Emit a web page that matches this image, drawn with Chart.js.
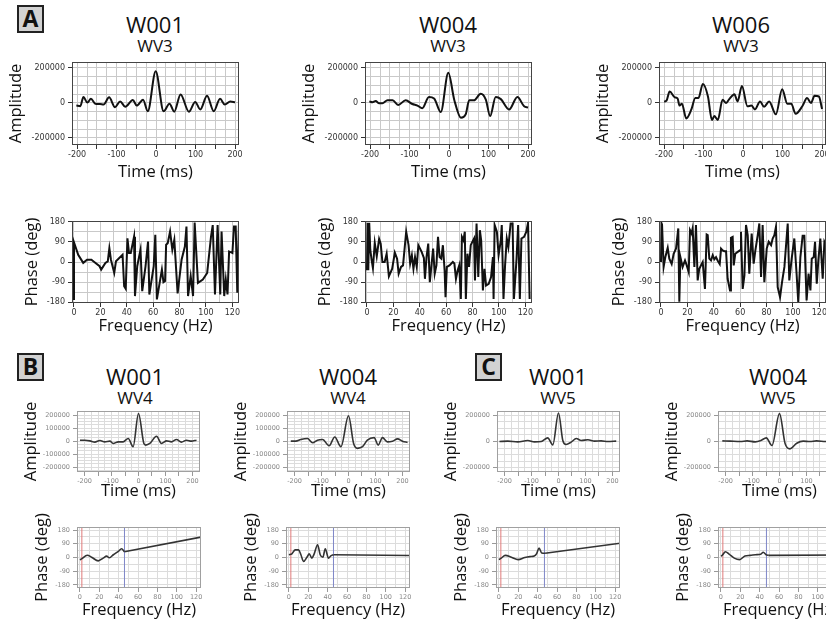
<!DOCTYPE html>
<html>
<head>
<meta charset="utf-8">
<script src="https://cdn.jsdelivr.net/npm/chart.js@4.4.1/dist/chart.umd.min.js"></script>
<style>
html, body { margin: 0; padding: 0; background: #fff; overflow: hidden; }
#stage { position: relative; width: 826px; height: 623px; overflow: hidden; background: #fff; }
#stage canvas { position: absolute; }
.lbl { position: absolute; font-family: 'Open Sans', sans-serif; color: #111; text-align: center; white-space: nowrap; width: 140px; }
.box { position: absolute; box-sizing: border-box; background: #d2d2d2; border: 2px solid #222;
       font: bold 23px/23px 'Open Sans', sans-serif; color: #111; text-align: center; }
</style>
</head>
<body>
<div id="stage"></div>
<script>
// ---------- A: WV3, time domain ----------
const w001Wv3Time = [-202, -192, -184, -174, -165, -154, -142, -133, -119, -104, -91, -78, -59, -49, -33, -21, -1, 19, 34, 46, 62, 83, 99, 112, 129, 146, 162, 174, 188, 200];
const w001Wv3Amp = [-15000, -18000, 34000, 2000, 24000, -4000, -6000, -9000, 32000, -24000, 9000, -22000, 17000, -15000, 19000, -47000, 181000, -47000, -4000, -50000, 49000, -50000, 6000, -37000, 41000, -47000, 24000, -9000, 9000, 4000];

const w004Wv3Time = [-202, -194, -186, -177, -169, -156, -143, -129, -110, -93, -80, -68, -51, -38, -21, -2, 13, 30, 42, 51, 63, 80, 93, 104, 118, 131, 152, 173, 190, 200];
const w004Wv3Amp = [9000, 4000, 11000, -2000, -2000, 15000, 15000, -11000, 15000, -6000, -15000, -30000, 34000, 26000, -52000, 172000, 19000, -84000, -65000, 15000, 15000, 52000, 19000, -75000, 34000, 22000, -37000, 34000, -19000, -26000];

const w006Wv3Time = [-200, -194, -186, -173, -166, -161, -155, -144, -131, -121, -113, -102, -89, -79, -73, -64, -52, -43, -35, -22, -14, -3, 11, 21, 30, 43, 53, 66, 83, 99, 112, 122, 133, 150, 162, 172, 181, 192, 200];
const w006Wv3Amp = [7000, 13000, 65000, 32000, 26000, -15000, -4000, -88000, -37000, 28000, 28000, 108000, 37000, -97000, -75000, -97000, 19000, 0, 22000, 50000, 9000, 97000, -19000, -15000, -37000, 9000, -22000, 9000, -65000, 78000, -4000, -4000, -62000, -19000, 28000, 0, 41000, 37000, -34000];

// ---------- A: WV3, phase spectra ----------
const w001Wv3Freq = [0, 0, 3.2, 7, 9.9, 13.2, 15.6, 19.4, 20.6, 23.8, 25.6, 26.8, 28, 30.5, 31.8, 36.8, 38, 39.2, 40.5, 41.7, 43, 45.5, 46.2, 47.9, 50.4, 51.7, 54.2, 56.1, 57.1, 60.4, 61.6, 62.8, 66.6, 67.8, 69, 69.8, 71, 72.8, 74.5, 76, 78.5, 81.5, 84, 85.2, 86.4, 88.4, 90.2, 91.4, 93.9, 97.6, 100.9, 103.8, 105.1, 106.8, 108.8, 110.8, 111.8, 113.8, 115, 116.3, 117.5, 120, 121.2, 122.5, 123.7, 125, 125];
const w001Wv3Phase = [-170, 88, 32, -4, 10, 10, -1, -19, -34, -4, 3, 62, 10, -49, 3, 32, -108, -120, 106, 40, 40, 113, -152, -19, 55, -130, -19, 91, -145, -19, 121, -167, -34, -90, -85, 77, 84, 136, 55, 99, -140, 10, 69, 158, -152, -63, -152, 176, -93, -78, -49, 113, 165, -145, 165, -145, 136, -152, -78, -145, 47, 40, 158, 158, -137, 180, -180];

const w004Wv3Freq = [0, 0.5, 1.0, 1.7, 2.5, 3.5, 4.5, 5.9, 7.4, 9.2, 10.4, 11.7, 13.4, 14.9, 16.6, 19.1, 21.1, 22.8, 24, 25.8, 27.3, 29.7, 31.5, 32.7, 34, 35.2, 36.4, 37.7, 38.9, 41.4, 43.1, 43.9, 45.1, 46.4, 47.6, 50.1, 51.3, 52.6, 53.8, 55, 56.3, 57.5, 58.8, 59.5, 60.5, 62.5, 65, 66.2, 67.4, 68.7, 69.9, 71.1, 71.9, 73.1, 74.1, 74.9, 76.1, 77.3, 78.6, 79.8, 81.1, 81.8, 83, 84.3, 85.5, 86.5, 87.8, 89, 90.2, 92.2, 94, 95.4, 95.9, 96.7, 98.4, 99.7, 101.4, 102.1, 103.4, 104.6, 105.9, 107.1, 108.8, 110.3, 111.3, 113.3, 114.5, 115.8, 117, 119, 120.7, 122, 123.2];
const w004Wv3Phase = [-37, 175, -37, 175, 55, 10, -27, 85, 25, 103, 82, 0, 0, 37, -64, -30, 42, 15, -52, -22, -15, 135, 75, -7, 30, -30, 22, -22, 75, 45, 18, -75, 22, 82, -90, 60, -52, -15, 112, 22, 15, 75, -37, -157, -22, -15, 0, -7, -75, -37, -15, -165, 112, 97, 135, -165, 37, -22, 75, 90, 105, -82, 172, -67, 142, 97, -127, -30, -105, -97, -67, 22, -165, 165, 135, 30, 97, 165, -165, -15, 105, 67, 172, 172, -165, 15, 165, -165, 105, 112, 135, 175, -165];

const w006Wv3Freq = [0, 0.5, 0.8, 2.0, 3.3, 5.1, 6.3, 8.1, 9.6, 11.4, 13.1, 13.9, 14.7, 16.4, 18.2, 19.5, 21.0, 22.0, 23.2, 24.0, 25.3, 26.5, 27.8, 29.0, 31.6, 33.3, 34.6, 35.4, 36.6, 37.9, 39.2, 40.4, 41.7, 42.9, 44.5, 45.5, 46.7, 48.0, 49.3, 50.5, 52.3, 53.0, 54.3, 55.1, 56.3, 58.1, 59.9, 60.6, 61.9, 63.2, 64.4, 65.7, 66.9, 68.7, 70.2, 71.5, 73.3, 74.5, 75.8, 77.0, 78.3, 80.1, 81.6, 83.4, 84.6, 85.9, 87.1, 88.4, 90.2, 91.7, 93.5, 96.0, 97.2, 99.0, 101.0, 102.8, 104.0, 105.6, 107.3, 108.6, 110.3, 111.8, 113.2, 114.2, 115.7, 116.7, 118.0, 119.2, 120.7, 122.5, 123.8, 125.0];
const w006Wv3Phase = [0, 172, 168, -22, 22, 63, 15, -9, 37, 60, 150, -177, 22, -22, 7, -15, -45, 142, 127, 150, -22, 165, -82, -30, 0, -120, 123, 120, 15, 7, 30, 12, 22, 7, -9, 60, 52, 48, 48, -75, -127, 108, 112, -15, 37, 45, 52, 135, -120, -60, 165, 120, -52, 127, -7, 52, 120, 172, -67, 165, -90, 60, 90, 75, 105, 120, 157, -112, -157, -90, -22, 172, -82, 15, 105, -60, -180, 22, 117, 117, -172, -52, -127, 15, 22, 90, -97, 7, 105, -75, 90, 75];

// ---------- B: WV4 and C: WV5, time domain ----------
const w001Wv4Time = [-217, -199, -180, -162, -143, -125, -106, -94, -75, -57, -38, -20, 0, 20, 27, 42, 67, 85, 104, 122, 141, 159, 178, 196, 215];
const w001Wv4Amp = [7500, 7500, 2500, -7500, 5000, -5000, 0, -17500, -5000, -5000, 20000, -42500, 212500, -17500, -30000, -17500, 37500, -17500, 2500, -5000, 12500, -7500, 7500, 0, 7500];

const w004Wv4Time = [-214, -195, -177, -152, -133, -115, -96, -72, -51, -28, 0, 19, 33, 52, 70, 95, 110, 126, 144, 163, 182, 200, 219];
const w004Wv4Amp = [0, 0, 12500, 20000, -12500, 7500, 12500, -35000, 32500, -42500, 195000, -17500, -55000, -42500, 7500, 27500, -30000, 27500, -5000, 0, 17500, 0, -10000];

const w001Wv5Time = [-219, -188, -151, -114, -89, -64, -40, -21, 0, 16, 28, 47, 66, 84, 109, 134, 158, 183, 214];
const w001Wv5Amp = [0, 2600, -2600, 7700, -2600, 0, 28000, -25600, 218000, 7700, -23000, -5000, 23000, 7700, 12800, 2600, 5000, 0, 2600];

const w004Wv5Time = [-212, -182, -145, -120, -90, -69, -49, -28, 0, 21, 39, 64, 88, 113, 137, 172, 215];
const w004Wv5Amp = [5000, 2600, 0, 5000, -2600, 7700, 28000, -31000, 213000, -18000, -56000, -13000, 2600, 0, 5000, 0, 0];

// ---------- B / C: phase spectra (last point = end of the linear tail) ----------
const w001Wv4Freq = [0, 1.7, 7.6, 12, 19, 24, 27.6, 30.4, 34.5, 39.7, 43, 45.9, 125];
const w001Wv4Phase = [-15, -9, 15, 2, -22, -4, 9, -2, 18, 40, 57, 38, 134];

const w004Wv4Freq = [0, 3.1, 6.5, 10, 12.4, 15.1, 18.6, 21, 23.7, 26.1, 29.6, 32.3, 35.1, 37.5, 40.9, 43.3, 46.1, 124.5];
const w004Wv4Phase = [18, 24, 50, 50, 18, -26, 2, 24, -4, 24, 84, 18, 2, 57, -4, 11, 18, 13];

const w001Wv5Freq = [0, 2.4, 6.6, 12.9, 19.8, 26.8, 32, 36.5, 39, 41.4, 44.2, 47.7, 126];
const w001Wv5Phase = [-14, -4, 14, 2, -14, 0, 6, 10, 26, 62, 30, 28, 94];

const w004Wv5Freq = [0, 1.1, 4.7, 8.4, 13.8, 19.3, 24.8, 30.2, 35.7, 41.1, 43.7, 46.6, 49.5, 125];
const w004Wv5Phase = [10, 12, 38, 22, -4, -14, 10, 14, 18, 22, 34, 18, 14, 16];

// band limits (Hz): red = low cut, blue = high cut
const wv4Band = [2, 46];
const wv5Band = [2, 47];

// ---------- drawing ----------
const stage = document.getElementById('stage');
const TEXT_FONT = "'Open Sans', sans-serif";
const TICK_FONT = "'DejaVu Sans', sans-serif";

const framePlugin = {
    id: 'frame',
    afterDraw(chart, args, opts) {
        const a = chart.chartArea, c = chart.ctx;
        c.save();
        c.strokeStyle = opts.color;
        c.lineWidth = 1;
        c.strokeRect(Math.round(a.left) + 0.5, Math.round(a.top) + 0.5,
            Math.round(a.right - a.left) - 1, Math.round(a.bottom - a.top) - 1);
        c.restore();
    }
};

const styleA = { tick: 8, tickColor: '#333', grid: '#c9c9c9', mark: '#333', frame: '#444', line: '#111', lineWidth: 2 };
const styleBC = { tick: 6.5, tickColor: '#888', grid: '#dcdcdc', mark: '#999', frame: '#a0a0a0', line: '#333', lineWidth: 1.6 };

const ampA = { w: 167, h: 83, yW: 68, xH: 37, padT: 8, yPad: 2, xMin: -213, xMax: 210, xStep: 25, xLabel: 100, xMark: 50,
    yMin: -240000, yMax: 234000, yStep: 50000, yLabel: 200000, xTitle: 'Time (ms)', yTitle: 'Amplitude', smooth: true };
const phaseA = { w: 167, h: 82, yW: 50, xH: 33, padT: 8, yPad: 0, xMin: -1.5, xMax: 125, xStep: 10, xLabel: 20, xMark: 20,
    yMin: -183, yMax: 183, yStep: 45, yLabel: 90, xTitle: 'Frequency (Hz)', yTitle: 'Phase (deg)', smooth: false };
const ampB = { w: 123, h: 61, yW: 58, xH: 29, padT: 26, yPad: 2, xMin: -228, xMax: 228, xStep: 25, xLabel: 100, xMark: 50,
    yMin: -237000, yMax: 232000, yStep: 25000, yLabel: 100000, xTitle: 'Time (ms)', yTitle: 'Amplitude', smooth: true };
const ampC = Object.assign({}, ampB, { yMin: -233000, yMax: 233000, yStep: 50000, yLabel: 200000 });
const phaseBC = { w: 124, h: 61, yW: 46, xH: 32, padT: 26, yPad: 1, xMin: -3, xMax: 125, xStep: 10, xLabel: 20, xMark: 20,
    yMin: -200, yMax: 200, yStep: 45, yLabel: 90, xTitle: 'Frequency (Hz)', yTitle: 'Phase (deg)', smooth: true, tail: true };

const isMult = (v, m) => Math.abs(v % m) < 1e-6;

// ticks at every multiple of step inside [min, max]
function stepTicks(min, max, step) {
    const out = [];
    for (let k = Math.ceil(min / step); k * step <= max; k++) out.push({ value: k * step });
    return out;
}

function axis(min, max, step, labelEvery, markEvery, st, title, titlePad, fit, horizontal) {
    return {
        type: 'linear', min, max,
        afterBuildTicks: s => { s.ticks = stepTicks(min, max, step); },
        ticks: {
            autoSkip: false, maxRotation: 0, minRotation: 0,
            font: { family: TICK_FONT, size: st.tick }, color: st.tickColor, padding: horizontal ? 1 : 3,
            callback: v => isMult(v, labelEvery) ? String(v) : ''
        },
        grid: {
            color: st.grid, lineWidth: 1, tickLength: 4,
            tickColor: ctx => (ctx.tick && isMult(ctx.tick.value, markEvery)) ? st.mark : 'rgba(0,0,0,0)'
        },
        border: { display: false },
        title: {
            display: true, text: title, color: '#111',
            font: { family: TEXT_FONT, size: 16.5, lineHeight: 1.2 },
            padding: horizontal ? { top: 0, bottom: 0 } : { top: titlePad, bottom: 0 }
        },
        afterFit: fit
    };
}

function drawPanel(left, top, kind, st, xs, ys, band) {
    const padT = kind.padT, padR = 8;
    const cw = kind.yW + kind.w + padR, ch = padT + kind.h + kind.xH;
    const cv = document.createElement('canvas');
    cv.width = cw; cv.height = ch;
    cv.style.left = (left - kind.yW) + 'px';
    cv.style.top = (top - padT) + 'px';
    stage.appendChild(cv);

    const pts = xs.map((x, i) => ({ x, y: ys[i] }));
    const lineStyle = { borderColor: st.line, borderWidth: st.lineWidth, pointRadius: 0 };
    const datasets = [Object.assign({
        data: kind.tail ? pts.slice(0, -1) : pts,
        tension: kind.smooth ? 0.4 : 0, cubicInterpolationMode: kind.smooth ? 'monotone' : 'default'
    }, lineStyle)];
    // straight tail past the high cut
    if (kind.tail) datasets.push(Object.assign({ data: pts.slice(-2), tension: 0 }, lineStyle));
    if (band) {
        ['#e07a7a', '#7f86c8'].forEach((col, i) => datasets.push({
            data: [{ x: band[i], y: kind.yMin }, { x: band[i], y: kind.yMax }],
            borderColor: col, borderWidth: 1, pointRadius: 0
        }));
    }

    new Chart(cv, {
        type: 'line',
        data: { datasets },
        options: {
            responsive: false, animation: false, devicePixelRatio: 1,
            layout: { padding: { top: padT, right: padR, left: 0, bottom: 0 } },
            plugins: { legend: { display: false }, tooltip: { enabled: false }, frame: { color: st.frame } },
            scales: {
                x: axis(kind.xMin, kind.xMax, kind.xStep, kind.xLabel, kind.xMark, st, kind.xTitle, 0, s => { s.height = kind.xH; }, true),
                y: axis(kind.yMin, kind.yMax, kind.yStep, kind.yLabel, kind.yLabel, st, kind.yTitle, kind.yPad, s => { s.width = kind.yW; }, false)
            }
        },
        plugins: [framePlugin]
    });
}

function label(text, cx, cy, size) {
    const d = document.createElement('div');
    d.className = 'lbl';
    d.textContent = text;
    d.style.fontSize = size + 'px';
    d.style.lineHeight = (size * 1.2) + 'px';
    d.style.left = (cx - 70) + 'px';
    d.style.top = (cy - 0.63 * size) + 'px';
    stage.appendChild(d);
}

function letterBox(text, x, y) {
    const d = document.createElement('div');
    d.className = 'box';
    d.textContent = text;
    d.style.left = x + 'px'; d.style.top = y + 'px';
    d.style.width = '27px'; d.style.height = '28px';
    stage.appendChild(d);
}

// panel letters
letterBox('A', 17, 5);
letterBox('B', 17, 353);
letterBox('C', 475, 353);

// row A titles
[['W001', 155], ['W004', 448], ['W006', 741]].forEach(([t, cx]) => {
    label(t, cx, 25, 22);
    label('WV3', cx, 47, 17);
});
// row B / C titles
[['W001', 'WV4', 135], ['W004', 'WV4', 348], ['W001', 'WV5', 558], ['W004', 'WV5', 778]].forEach(([t, s, cx]) => {
    label(t, cx, 377, 22);
    label(s, cx, 399, 17);
});

// A
drawPanel(72, 62, ampA, styleA, w001Wv3Time, w001Wv3Amp);
drawPanel(365, 62, ampA, styleA, w004Wv3Time, w004Wv3Amp);
drawPanel(659, 62, ampA, styleA, w006Wv3Time, w006Wv3Amp);
drawPanel(72, 221, phaseA, styleA, w001Wv3Freq, w001Wv3Phase);
drawPanel(365, 221, phaseA, styleA, w004Wv3Freq, w004Wv3Phase);
drawPanel(659, 221, phaseA, styleA, w006Wv3Freq, w006Wv3Phase);

// B
drawPanel(77, 411, ampB, styleBC, w001Wv4Time, w001Wv4Amp);
drawPanel(287, 411, ampB, styleBC, w004Wv4Time, w004Wv4Amp);
drawPanel(77, 527, phaseBC, styleBC, w001Wv4Freq, w001Wv4Phase, wv4Band);
drawPanel(286, 527, phaseBC, styleBC, w004Wv4Freq, w004Wv4Phase, wv4Band);

// C
drawPanel(497, 411, ampC, styleBC, w001Wv5Time, w001Wv5Amp);
drawPanel(718, 411, ampC, styleBC, w004Wv5Time, w004Wv5Amp);
drawPanel(496, 527, phaseBC, styleBC, w001Wv5Freq, w001Wv5Phase, wv5Band);
drawPanel(718, 527, phaseBC, styleBC, w004Wv5Freq, w004Wv5Phase, wv5Band);
</script>
</body>
</html>
